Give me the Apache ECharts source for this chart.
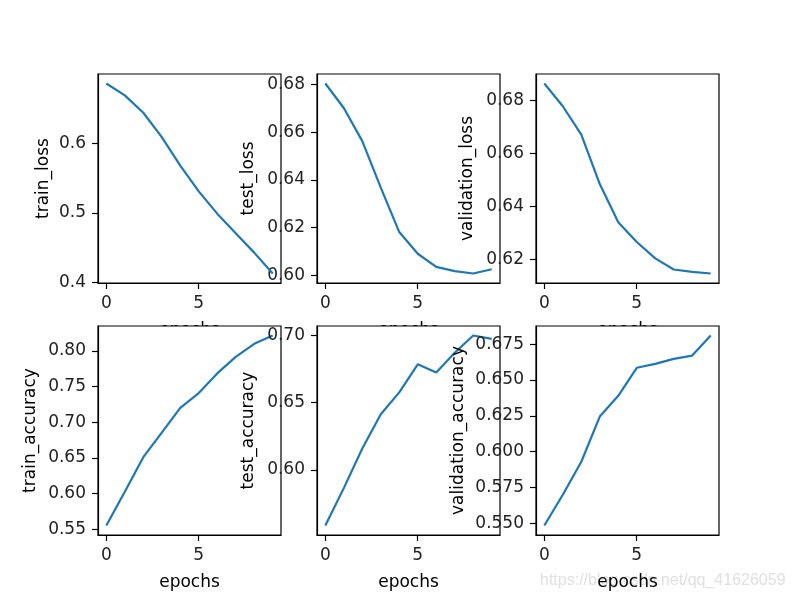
<!DOCTYPE html>
<html>
<head>
<meta charset="utf-8">
<script src="https://cdn.jsdelivr.net/npm/echarts@6/dist/echarts.min.js"></script>
<style>
  html, body { margin: 0; padding: 0; background: #fff; }
  #main { width: 793px; height: 601px; }
</style>
</head>
<body>
<div id="main"></div>
<script>
// epochs 0..9
const epochs = [0, 1, 2, 3, 4, 5, 6, 7, 8, 9]

// series values
const trainLoss = [0.686, 0.669, 0.644, 0.609, 0.568, 0.531, 0.499, 0.471, 0.443, 0.413]
const testLoss = [0.6805, 0.6702, 0.6563, 0.6368, 0.6181, 0.6090, 0.6035, 0.6017, 0.6007, 0.6025]
const validationLoss = [0.6864, 0.6778, 0.6671, 0.6484, 0.6340, 0.6265, 0.6203, 0.6161, 0.6152, 0.6146]
const trainAccuracy = [0.5555, 0.6029, 0.6512, 0.6857, 0.7203, 0.7410, 0.7686, 0.7917, 0.8100, 0.8217]
const testAccuracy = [0.5587, 0.5865, 0.6160, 0.6414, 0.6577, 0.6786, 0.6724, 0.6872, 0.7000, 0.6975]
const validationAccuracy = [0.5486, 0.5700, 0.5930, 0.6245, 0.6390, 0.6585, 0.6612, 0.6647, 0.6670, 0.6810]

// tick labels
const xTicks = [0, 5]
const trainLossTicks = ['0.4', '0.5', '0.6']
const testLossTicks = ['0.60', '0.62', '0.64', '0.66', '0.68']
const validationLossTicks = ['0.62', '0.64', '0.66', '0.68']
const trainAccuracyTicks = ['0.55', '0.60', '0.65', '0.70', '0.75', '0.80']
const testAccuracyTicks = ['0.60', '0.65', '0.70']
const validationAccuracyTicks = ['0.550', '0.575', '0.600', '0.625', '0.650', '0.675']

const panels = [
  { name: 'train_loss', data: trainLoss, ticks: trainLossTicks, gap: 46 },
  { name: 'test_loss', data: testLoss, ticks: testLossTicks, gap: 60 },
  { name: 'validation_loss', data: validationLoss, ticks: validationLossTicks, gap: 60 },
  { name: 'train_accuracy', data: trainAccuracy, ticks: trainAccuracyTicks, gap: 59 },
  { name: 'test_accuracy', data: testAccuracy, ticks: testAccuracyTicks, gap: 60 },
  { name: 'validation_accuracy', data: validationAccuracy, ticks: validationAccuracyTicks, gap: 69 }
]

const FONT = 'DejaVu Sans'
const FONT_SIZE = 17
const LINE_COLOR = '#1f77b4'
const colLeft = [98, 317, 536]
const rowTop = [74, 326]
const boxW = 183
const boxH = 209

const grids = []
const xAxes = []
const yAxes = []
const series = []

panels.forEach((p, i) => {
  const row = Math.floor(i / 3)
  const col = i % 3
  // bottom row panels sit above the top row's "epochs" labels, like matplotlib
  grids.push({
    left: colLeft[col],
    top: rowTop[row],
    width: boxW,
    height: boxH,
    show: true,
    z: row === 1 ? 1 : 0,
    backgroundColor: row === 1 ? '#fff' : 'transparent',
    borderColor: '#000',
    borderWidth: 1.2
  })

  // matplotlib style 5% margins
  const lo = Math.min(...p.data)
  const hi = Math.max(...p.data)
  const pad = (hi - lo) * 0.05
  const decimals = p.ticks[0].split('.')[1].length
  const axisZ = row === 1 ? 3 : 0

  xAxes.push({
    gridIndex: i,
    type: 'value',
    min: -0.45,
    max: 9.45,
    z: axisZ,
    name: 'epochs',
    nameLocation: 'middle',
    nameGap: 39,
    nameTextStyle: { fontFamily: FONT, fontSize: FONT_SIZE, color: '#000' },
    axisLine: { show: true, onZero: false, lineStyle: { color: '#000', width: 1.2 } },
    axisTick: { show: true, customValues: xTicks, length: 6, lineStyle: { color: '#000', width: 1.2 } },
    axisLabel: {
      customValues: xTicks,
      margin: 12,
      fontFamily: FONT,
      fontSize: FONT_SIZE,
      color: '#222'
    },
    splitLine: { show: false }
  })

  yAxes.push({
    gridIndex: i,
    type: 'value',
    min: lo - pad,
    max: hi + pad,
    z: axisZ,
    name: p.name,
    nameLocation: 'middle',
    nameGap: p.gap,
    nameRotate: 90,
    nameTextStyle: { fontFamily: FONT, fontSize: FONT_SIZE, color: '#000' },
    axisLine: { show: true, onZero: false, lineStyle: { color: '#000', width: 1.2 } },
    axisTick: { show: true, customValues: p.ticks.map(Number), length: 6, lineStyle: { color: '#000', width: 1.2 } },
    axisLabel: {
      customValues: p.ticks.map(Number),
      margin: 12,
      fontFamily: FONT,
      fontSize: FONT_SIZE,
      color: '#222',
      formatter: v => v.toFixed(decimals)
    },
    splitLine: { show: false }
  })

  series.push({
    type: 'line',
    xAxisIndex: i,
    yAxisIndex: i,
    data: epochs.map((e, k) => [e, p.data[k]]),
    showSymbol: false,
    smooth: false,
    z: 2,
    lineStyle: { color: LINE_COLOR, width: 2.2 },
    itemStyle: { color: LINE_COLOR }
  })
})

const chart = echarts.init(document.getElementById('main'), null, { renderer: 'canvas' })

chart.setOption({
  animation: false,
  backgroundColor: '#fff',
  grid: grids,
  xAxis: xAxes,
  yAxis: yAxes,
  series: series,
  graphic: [{
    type: 'text',
    left: 540,
    top: 573,
    z: -1,
    style: {
      text: 'https://blog.csdn.net/qq_41626059',
      fontFamily: 'Liberation Sans',
      fontSize: 16,
      fill: '#e0e0e0'
    }
  }]
})
</script>
</body>
</html>
